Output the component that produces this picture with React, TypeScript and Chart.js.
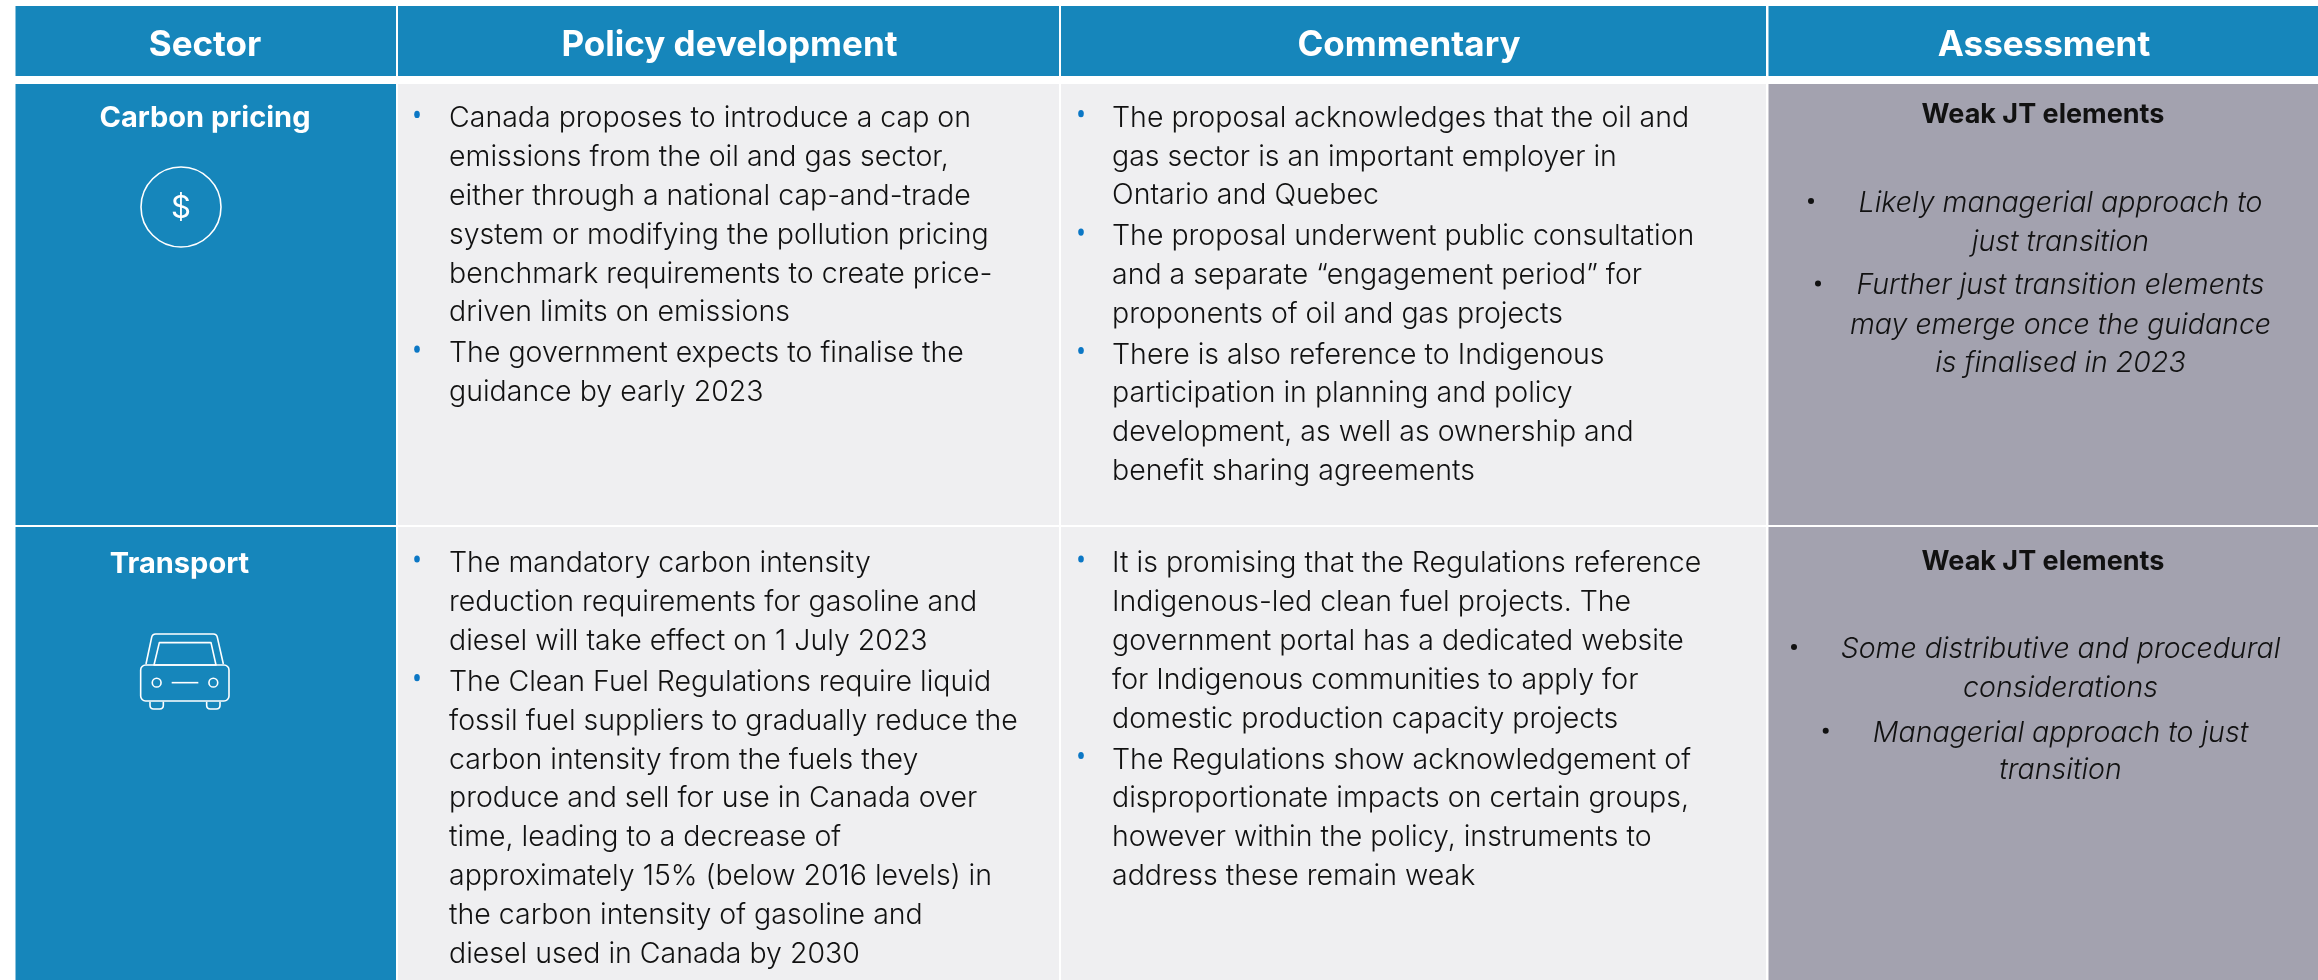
import React, { useEffect, useRef } from "react";
import { Chart, registerables } from "chart.js";

Chart.register(...registerables);

// ---------- content ----------
const headers = ["Sector", "Policy development", "Commentary", "Assessment"];
const sectors = ["Carbon pricing", "Transport"];
const rating = "Weak JT elements";

const policyCarbon = [
  ["Canada proposes to introduce a cap on", "emissions from the oil and gas sector,", "either through a national cap-and-trade", "system or modifying the pollution pricing", "benchmark requirements to create price-", "driven limits on emissions"],
  ["The government expects to finalise the", "guidance by early 2023"],
];
const commentCarbon = [
  ["The proposal acknowledges that the oil and", "gas sector is an important employer in", "Ontario and Quebec"],
  ["The proposal underwent public consultation", "and a separate \u201Cengagement period\u201D for", "proponents of oil and gas projects"],
  ["There is also reference to Indigenous", "participation in planning and policy", "development, as well as ownership and", "benefit sharing agreements"],
];
const assessCarbon = [
  ["Likely managerial approach to", "just transition"],
  ["Further just transition elements", "may emerge once the guidance", "is finalised in 2023"],
];
const policyTransport = [
  ["The mandatory carbon intensity", "reduction requirements for gasoline and", "diesel will take effect on 1 July 2023"],
  ["The Clean Fuel Regulations require liquid", "fossil fuel suppliers to gradually reduce the", "carbon intensity from the fuels they", "produce and sell for use in Canada over", "time, leading to a decrease of", "approximately 15% (below 2016 levels) in", "the carbon intensity of gasoline and", "diesel used in Canada by 2030"],
];
const commentTransport = [
  ["It is promising that the Regulations reference", "Indigenous-led clean fuel projects. The", "government portal has a dedicated website", "for Indigenous communities to apply for", "domestic production capacity projects"],
  ["The Regulations show acknowledgement of", "disproportionate impacts on certain groups,", "however within the policy, instruments to", "address these remain weak"],
];
const assessTransport = [
  ["Some distributive and procedural", "considerations"],
  ["Managerial approach to just", "transition"],
];

// ---------- table grid (scale units equal page pixels) ----------
const columnEdges = [[15.5, 396], [398, 1059], [1061, 1766], [1768.5, 2318]];
const rowEdges = [[6, 76], [84, 525], [527, 980]];
const BLUE = "#1686BB";
const LIGHT = "#EFEFF1";
const GREY = "#A3A2AF";
const columnFills = [
  [BLUE, BLUE, BLUE],
  [BLUE, LIGHT, LIGHT],
  [BLUE, LIGHT, LIGHT],
  [BLUE, GREY, GREY],
];

const FONT = "Inter, 'Open Sans', sans-serif";

function label(ctx: any, s: string, x: number, y: number, font: string, color: string, align: CanvasTextAlign = "left", spacing = 0) {
  ctx.font = font;
  ctx.fillStyle = color;
  ctx.textAlign = align;
  ctx.textBaseline = "alphabetic";
  ctx.letterSpacing = spacing + "px";
  ctx.fillText(s, x, y);
  ctx.letterSpacing = "0px";
}

function bulletBlock(ctx: any, paras: string[][], y0: number, textX: number, bulletX: number, pitch: number, gap: number) {
  let y = y0;
  for (const para of paras) {
    ctx.fillStyle = "#0B77C5";
    ctx.beginPath();
    ctx.ellipse(bulletX, y - 13, 2.8, 3.6, 0, 0, Math.PI * 2);
    ctx.fill();
    for (const line of para) {
      label(ctx, line, textX, y, `300 28.5px ${FONT}`, "#111111");
      y += pitch;
    }
    y += gap;
  }
}

function assessBlock(ctx: any, paras: string[][], baselines: number[], bulletXs: number[]) {
  const font = `italic 300 28.5px ${FONT}`;
  let k = 0;
  paras.forEach((para, p) => {
    para.forEach((line, i) => {
      ctx.font = font;
      const hasBullet = i === 0;
      const w = ctx.measureText(line).width;
      const cx = 2060.5;
      const left = hasBullet ? cx - w / 2 : cx - w / 2;
      label(ctx, line, left, baselines[k], font, "#111111");
      if (hasBullet) {
        ctx.fillStyle = "#111111";
        ctx.beginPath();
        ctx.arc(bulletXs[p], baselines[k] - 11, 3, 0, Math.PI * 2);
        ctx.fill();
      }
      k++;
    });
  });
}

function carIcon(ctx: any) {
  const px = (x: number) => 120 + x / 3;
  const py = (y: number) => 620 + y / 3;
  ctx.save();
  ctx.strokeStyle = "#FFFFFF";
  ctx.lineWidth = 1.6;
  ctx.lineJoin = "round";
  ctx.beginPath();
  ctx.roundRect(px(62), py(135), 265 / 3, 108 / 3, 5);
  ctx.stroke();
  ctx.beginPath();
  ctx.moveTo(px(78), py(132));
  ctx.lineTo(px(95), py(52));
  ctx.quadraticCurveTo(px(97), py(42), px(107), py(42));
  ctx.lineTo(px(280), py(42));
  ctx.quadraticCurveTo(px(290), py(42), px(292), py(52));
  ctx.lineTo(px(310), py(132));
  ctx.stroke();
  ctx.beginPath();
  ctx.moveTo(px(118), py(68));
  ctx.lineTo(px(273), py(68));
  ctx.lineTo(px(288), py(135));
  ctx.lineTo(px(102), py(135));
  ctx.closePath();
  ctx.stroke();
  for (const c of [110, 280]) {
    ctx.beginPath();
    ctx.arc(px(c), py(188), 4.4, 0, Math.PI * 2);
    ctx.stroke();
    ctx.beginPath();
    ctx.moveTo(px(c - 20), py(245));
    ctx.lineTo(px(c - 20), py(256));
    ctx.quadraticCurveTo(px(c - 20), py(267), px(c - 9), py(267));
    ctx.lineTo(px(c + 9), py(267));
    ctx.quadraticCurveTo(px(c + 20), py(267), px(c + 20), py(256));
    ctx.lineTo(px(c + 20), py(245));
    ctx.stroke();
  }
  ctx.beginPath();
  ctx.moveTo(px(155), py(188));
  ctx.lineTo(px(235), py(188));
  ctx.stroke();
  ctx.restore();
}

const tablePlugin = {
  id: "tableText",
  afterDatasetsDraw(chart: any) {
    const ctx = chart.ctx;
    ctx.save();
    const head = `700 35px ${FONT}`;
    const headX = [205, 729.5, 1409, 2044];
    headers.forEach((h, i) => label(ctx, h, headX[i], 56, head, "#FFFFFF", "center"));

    label(ctx, sectors[0], 205, 127, `700 29px ${FONT}`, "#FFFFFF", "center");
    label(ctx, sectors[1], 179.5, 572.5, `700 29px ${FONT}`, "#FFFFFF", "center");

    ctx.strokeStyle = "#FFFFFF";
    ctx.lineWidth = 1.6;
    ctx.beginPath();
    ctx.arc(181, 207, 40, 0, Math.PI * 2);
    ctx.stroke();
    label(ctx, "$", 181, 218, `400 31px ${FONT}`, "#FFFFFF", "center");
    carIcon(ctx);

    bulletBlock(ctx, policyCarbon, 127.4, 449, 417, 38.8, 2);
    bulletBlock(ctx, commentCarbon, 126.7, 1112, 1081, 38.8, 2);
    bulletBlock(ctx, policyTransport, 572, 449, 417, 38.9, 2);
    bulletBlock(ctx, commentTransport, 572, 1112, 1081, 38.9, 2);

    label(ctx, rating, 2043, 123, `700 27px ${FONT}`, "#111111", "center");
    label(ctx, rating, 2043, 570, `700 27px ${FONT}`, "#111111", "center");
    assessBlock(ctx, assessCarbon, [212, 250.7, 294.4, 334, 372], [1811, 1818]);
    assessBlock(ctx, assessTransport, [658, 696.7, 741.7, 779.3], [1794, 1825.7]);
    ctx.restore();
  },
};

export default function App() {
  const ref = useRef<HTMLCanvasElement>(null);
  useEffect(() => {
    document.body.style.margin = "0";
    const datasets = columnEdges.map(([a, b], c) => ({
      label: headers[c],
      data: rowEdges.map(([t, u]) => ({ x: (a + b) / 2, y: [t, u] })),
      backgroundColor: columnFills[c],
      barThickness: b - a,
      grouped: false,
      borderWidth: 0,
      inflateAmount: 0,
    }));
    const chart = new Chart(ref.current as HTMLCanvasElement, {
      type: "bar",
      data: { datasets: datasets as any },
      plugins: [tablePlugin],
      options: {
        animation: false,
        responsive: false,
        layout: { padding: 0 },
        plugins: { legend: { display: false }, tooltip: { enabled: false }, title: { display: false } },
        scales: {
          x: { type: "linear", min: 0, max: 2318, display: false, offset: false },
          y: { type: "linear", min: 0, max: 980, reverse: true, display: false },
        },
      },
    });
    return () => chart.destroy();
  }, []);
  return (
    <div style={{ width: 2318, height: 980, overflow: "hidden", background: "#fff" }}>
      <canvas ref={ref} width={2318} height={980} style={{ display: "block" }} />
    </div>
  );
}
